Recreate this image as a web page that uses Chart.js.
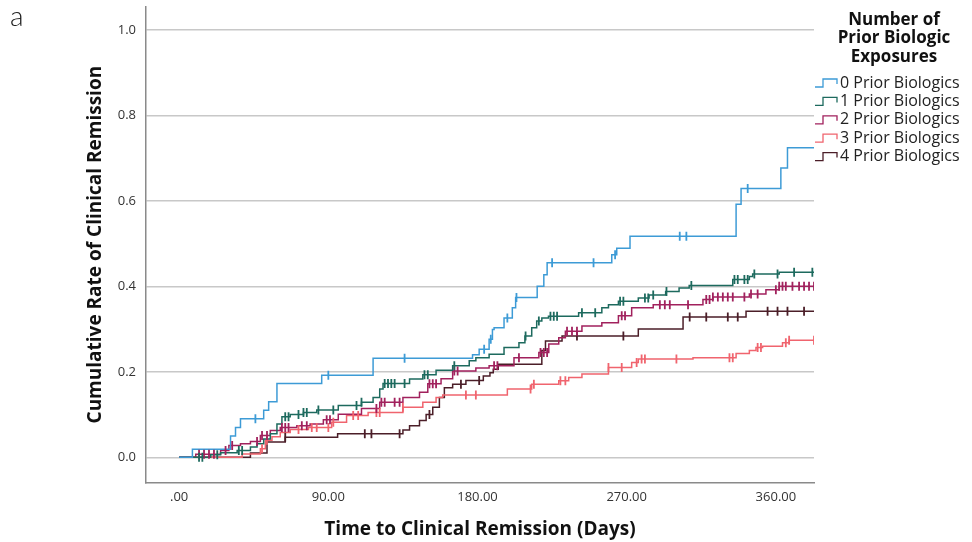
<!DOCTYPE html>
<html>
<head>
<meta charset="utf-8">
<script src="https://cdn.jsdelivr.net/npm/chart.js@4.4.1/dist/chart.umd.min.js"></script>
<style>
  html, body { margin: 0; padding: 0; background: #fff; }
  canvas { display: block; }
</style>
</head>
<body>
<canvas id="grafico_remissao" width="972" height="542"></canvas>
<script>
// grupos (categorias) e cores
const groupNames = ["0 Prior Biologics", "1 Prior Biologics", "2 Prior Biologics", "3 Prior Biologics", "4 Prior Biologics"];
const groupColors = ["#3d9bd6", "#1d6a5e", "#a1215d", "#f0646e", "#4b1e28"];
const legendTitle = ["Number of", "Prior Biologic", "Exposures"];

// 0 prior biologics: tempos dos eventos (dias) e taxa acumulada
const days0 = [0, 8, 31, 34, 37, 51, 54, 59, 86, 117, 177, 181, 187, 189, 190, 196, 201, 203, 216, 220, 222, 261, 264, 272, 336, 339, 363, 367];
const rate0 = [0, 0.019, 0.05, 0.07, 0.09, 0.11, 0.13, 0.173, 0.192, 0.232, 0.24, 0.253, 0.276, 0.299, 0.303, 0.326, 0.35, 0.374, 0.4, 0.427, 0.455, 0.474, 0.489, 0.517, 0.592, 0.629, 0.677, 0.724];
const cens0 = [46, 90, 136, 184, 188, 198, 203.5, 225, 250, 263, 302, 306, 343];

// 1 prior biologic
const days1 = [0, 19, 25, 35, 43, 47, 51, 55, 59, 62, 67, 75, 83, 96, 110, 117, 121, 123, 139, 147, 155, 165, 175, 179, 187, 196, 205, 208.6, 212.7, 215.7, 218.8, 222.8, 241, 255, 259, 265, 277, 283.5, 293.5, 301.6, 307.7, 334, 344, 346, 362];
const rate1 = [0, 0.006, 0.011, 0.016, 0.024, 0.032, 0.043, 0.055, 0.078, 0.095, 0.1, 0.105, 0.111, 0.121, 0.129, 0.14, 0.16, 0.173, 0.183, 0.193, 0.204, 0.214, 0.226, 0.233, 0.241, 0.257, 0.268, 0.284, 0.303, 0.319, 0.326, 0.33, 0.338, 0.35, 0.357, 0.365, 0.373, 0.38, 0.388, 0.396, 0.402, 0.416, 0.423, 0.429, 0.433];
const cens1 = [12, 14, 23, 36, 38, 64, 66, 72, 75, 77, 84, 93, 107, 110, 124, 126, 128, 130, 136, 148, 150, 166, 209, 217, 224, 226, 228, 243, 251, 266, 268, 281, 283, 286, 294, 309, 335, 337, 341, 343, 347, 361, 371, 382];

// 2 prior biologics
const days2 = [0, 10, 25, 30, 37, 43, 49, 55, 61, 71, 79, 87, 96, 110, 121, 135, 145, 150, 158, 165, 179, 187, 202, 217, 223, 229, 233, 243, 255, 265, 273, 286, 316, 322, 344, 354, 362];
const rate2 = [0, 0.007, 0.016, 0.028, 0.032, 0.037, 0.051, 0.063, 0.07, 0.074, 0.078, 0.088, 0.101, 0.114, 0.129, 0.14, 0.152, 0.172, 0.184, 0.202, 0.209, 0.214, 0.233, 0.245, 0.265, 0.28, 0.295, 0.307, 0.315, 0.331, 0.35, 0.357, 0.369, 0.375, 0.382, 0.392, 0.4];
const cens2 = [12, 15, 18, 21, 28, 32, 47, 50, 53, 62, 64, 66, 74, 77, 89, 91, 119, 122, 124, 130, 133, 151, 153, 155, 166, 168, 190, 192, 205, 218, 220, 222, 234, 237, 240, 267, 269, 290, 293, 296, 307, 318, 320, 322, 325, 328, 331, 334, 341, 345, 349, 360, 362, 364, 366, 370, 374, 377, 380, 383];

// 3 prior biologics
const days3 = [0, 38, 49, 52, 56, 61, 67, 78, 92, 101, 114, 135, 147, 155, 159, 198, 212.7, 229, 235, 243, 259, 273, 277, 310, 336, 344, 348, 352, 364, 368];
const rate3 = [0, 0.008, 0.02, 0.04, 0.048, 0.058, 0.065, 0.07, 0.082, 0.098, 0.105, 0.117, 0.129, 0.14, 0.146, 0.16, 0.171, 0.179, 0.187, 0.195, 0.21, 0.222, 0.23, 0.233, 0.243, 0.25, 0.257, 0.26, 0.268, 0.274];
const cens3 = [50, 53, 72, 80, 83, 90, 93, 105, 108, 119, 121, 135, 173, 179, 212, 214, 230, 233, 259, 267, 276, 279, 281, 300, 332, 334, 349, 351, 366, 368, 383];

// 4 prior biologics
const days4 = [0, 43, 53, 64, 95.6, 135, 139, 145, 149, 153, 157, 160, 165, 173, 183.5, 187.5, 189.5, 192.5, 218.8, 221, 231, 277, 304, 342];
const rate4 = [0, 0.01, 0.036, 0.047, 0.055, 0.064, 0.074, 0.086, 0.1, 0.117, 0.14, 0.163, 0.171, 0.18, 0.19, 0.198, 0.206, 0.218, 0.25, 0.272, 0.284, 0.3, 0.328, 0.342];
const cens4 = [64, 112, 116, 133, 151, 170, 181, 240, 268, 308, 318, 331, 337, 355, 361, 367, 377];

// eixos
const yTicks = [0, 0.2, 0.4, 0.6, 0.8, 1.0];
const xTicks = [0, 90, 180, 270, 360];
const lastDay = 383;

const series = [
    { days: days0, rates: rate0, cens: cens0 },
    { days: days1, rates: rate1, cens: cens1 },
    { days: days2, rates: rate2, cens: cens2 },
    { days: days3, rates: rate3, cens: cens3 },
    { days: days4, rates: rate4, cens: cens4 },
];

// valor da curva em degrau no tempo t
function rateAt(days, rates, t) {
    let r = 0;
    for (let i = 0; i < days.length; i++) if (days[i] <= t) r = rates[i];
    return r;
}

const datasets = [];
series.forEach((s, i) => {
    const pts = s.days.map((d, k) => ({ x: d, y: s.rates[k] }));
    pts.push({ x: lastDay, y: s.rates[s.rates.length - 1] });
    datasets.push({
        label: groupNames[i],
        data: pts,
        borderColor: groupColors[i],
        borderWidth: 1.5,
        stepped: "before",
        pointRadius: 0,
        fill: false,
        order: 1,
    });
});
series.forEach((s, i) => {
    datasets.push({
        label: groupNames[i] + " (censored)",
        data: s.cens.map(t => ({ x: t, y: rateAt(s.days, s.rates, t) })),
        showLine: false,
        pointStyle: "line",
        rotation: 90,
        pointRadius: 4.5,
        pointBorderWidth: 1.8,
        pointBorderColor: groupColors[i],
        borderColor: groupColors[i],
        order: 0,
    });
});

const fontFamily = '"Open Sans", "Liberation Sans", sans-serif';

// legenda no estilo SPSS
const legendPlugin = {
    id: "legendaSPSS",
    afterDraw(chart) {
        const ctx = chart.ctx;
        ctx.save();
        ctx.fillStyle = "#111";
        ctx.textAlign = "center";
        ctx.textBaseline = "middle";
        ctx.font = "bold 17px " + fontFamily;
        legendTitle.forEach((line, i) => ctx.fillText(line, 894, 20 + i * 18.5));

        ctx.textAlign = "left";
        ctx.font = "16px " + fontFamily;
        groupNames.forEach((name, i) => {
            const y = 83 + i * 18.4;
            ctx.strokeStyle = groupColors[i];
            ctx.lineWidth = 1.3;
            ctx.beginPath();
            ctx.moveTo(815, y + 4);
            ctx.lineTo(823, y + 4);
            ctx.lineTo(823, y - 4);
            ctx.lineTo(837, y - 4);
            ctx.lineTo(837, y + 1);
            ctx.stroke();
            ctx.fillStyle = "#222";
            ctx.fillText(name, 840, y);
        });

        ctx.fillStyle = "#222";
        ctx.font = "300 28px Lato, " + fontFamily;
        ctx.fillText("a", 10, 17);
        ctx.restore();
    }
};

new Chart(document.getElementById("grafico_remissao"), {
    type: "line",
    data: { datasets: datasets },
    plugins: [legendPlugin],
    options: {
        responsive: false,
        animation: false,
        layout: { padding: { top: 3, right: 158, left: 0, bottom: 0 } },
        plugins: {
            legend: { display: false },
            tooltip: { enabled: false }
        },
        scales: {
            x: {
                type: "linear",
                min: -20,
                max: lastDay,
                afterBuildTicks: (sc) => { sc.ticks = xTicks.map(v => ({ value: v })); },
                afterFit: (sc) => { sc.height = 59; sc.paddingLeft = 0; sc.paddingRight = 0; },
                grid: { display: false, drawTicks: false },
                border: { display: true, color: "#8a8a8a", width: 1.5 },
                ticks: {
                    padding: 6,
                    maxRotation: 0,
                    autoSkip: false,
                    color: "#333",
                    font: { family: fontFamily, size: 13 },
                    callback: (v) => v === 0 ? ".00" : v.toFixed(2)
                },
                title: {
                    display: true,
                    text: "Time to Clinical Remission (Days)",
                    color: "#111",
                    font: { family: fontFamily, size: 19, weight: "bold" },
                    padding: { top: 0, bottom: 1 }
                }
            },
            y: {
                min: -0.06,
                max: 1.055,
                afterBuildTicks: (sc) => { sc.ticks = yTicks.map(v => ({ value: v })); },
                afterFit: (sc) => { sc.width = 146; sc.paddingTop = 0; sc.paddingBottom = 0; },
                grid: { color: "#c8c8c8", lineWidth: 1.5, drawTicks: false },
                border: { display: true, color: "#8a8a8a", width: 1.5 },
                ticks: {
                    padding: 10,
                    color: "#333",
                    font: { family: fontFamily, size: 13 },
                    callback: (v) => v.toFixed(1)
                },
                title: {
                    display: true,
                    text: "Cumulative Rate of Clinical Remission",
                    color: "#111",
                    font: { family: fontFamily, size: 19, weight: "bold" },
                    padding: { top: 84, bottom: 0 }
                }
            }
        }
    }
});
</script>
</body>
</html>
